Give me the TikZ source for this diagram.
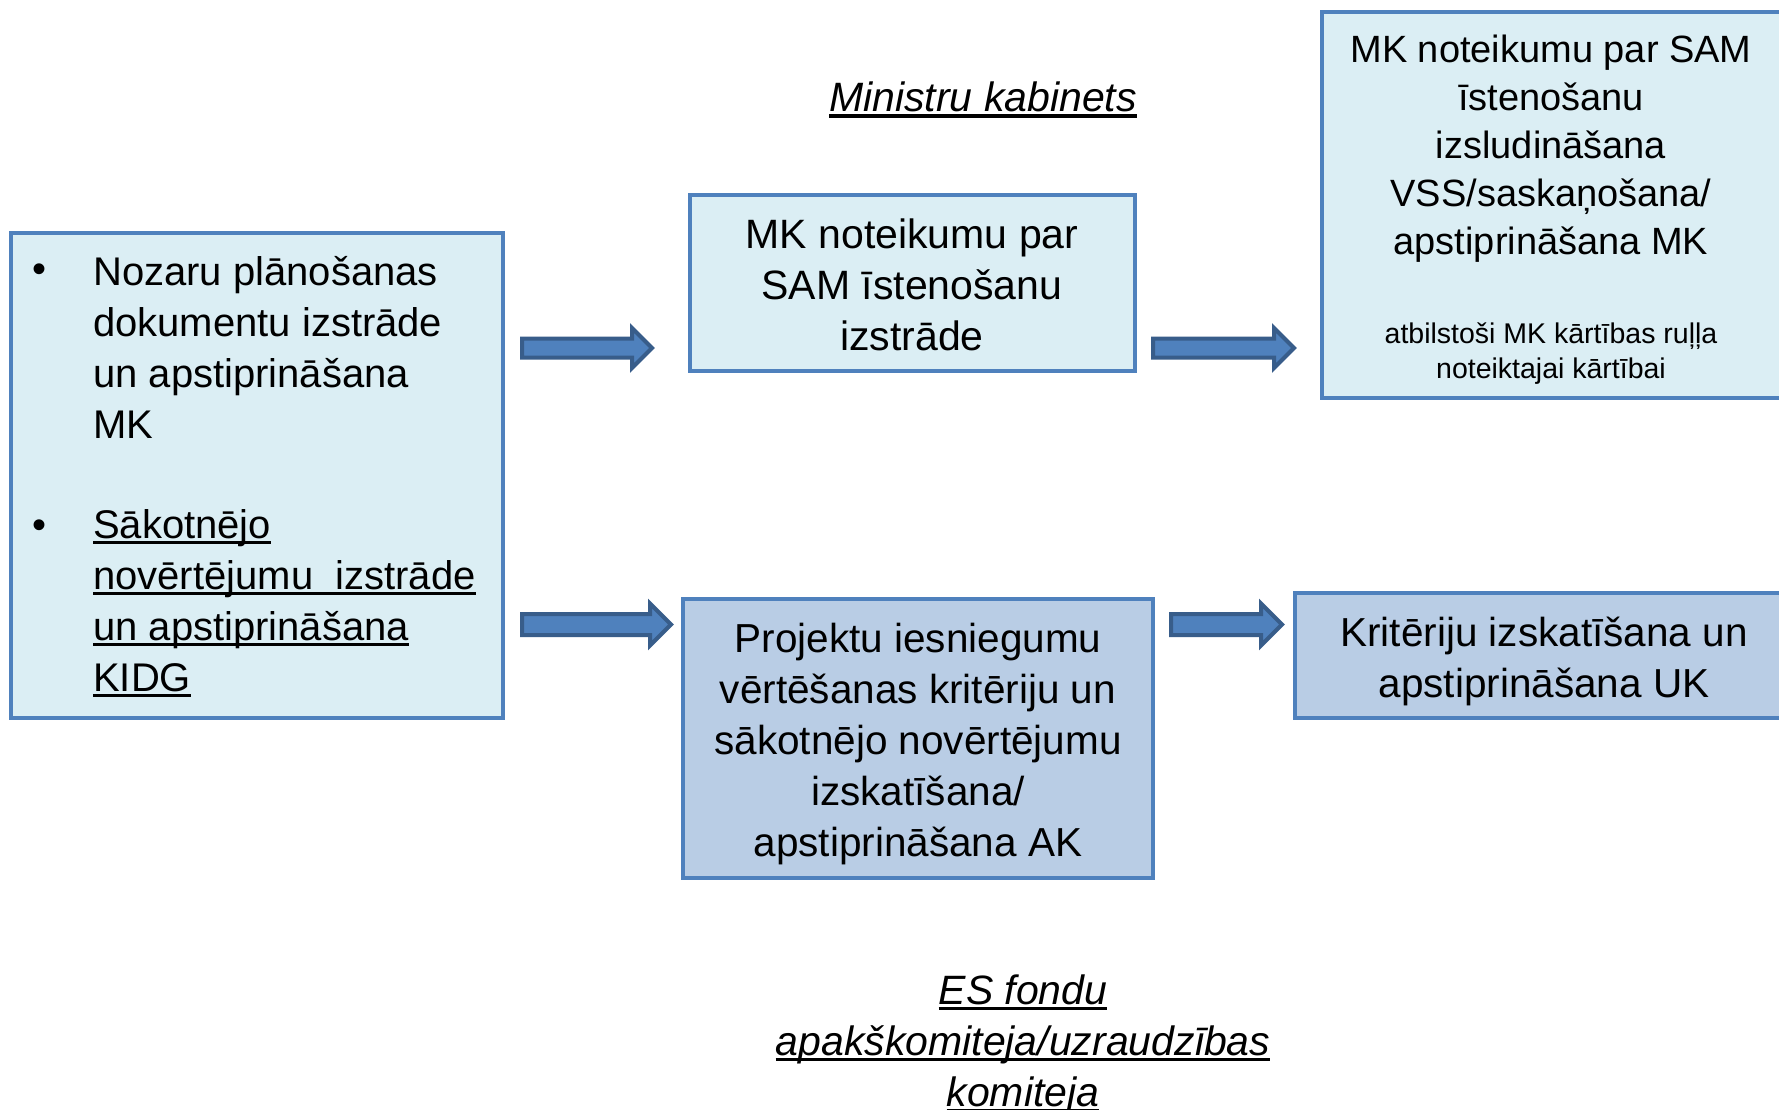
\documentclass[tikz,border=0pt]{standalone}
\usepackage{fontspec}
\setmainfont{Liberation Sans}
\usetikzlibrary{shapes.arrows}
\definecolor{lightfill}{HTML}{DBEEF4}
\definecolor{darkfill}{HTML}{B9CDE5}
\definecolor{boxborder}{HTML}{4F81BD}
\definecolor{arrowfill}{HTML}{4F81BD}
\definecolor{arrowborder}{HTML}{385D8A}
\newsavebox\ulinebox
\newcommand\ulinetext[2][2.5pt]{\sbox\ulinebox{#2}\rlap{\rule[\dimexpr-3pt-#1\relax]{\wd\ulinebox}{#1}}\usebox\ulinebox}
\tikzset{
  stagebox/.style={draw=boxborder, line width=4.5pt, inner sep=0pt},
  lightbox/.style={stagebox, fill=lightfill},
  darkbox/.style={stagebox, fill=darkfill},
  maintext/.style={inner sep=0pt, font=\fontsize{#1}{51}\selectfont},
  maintext/.default=40,
  smalltext/.style={inner sep=0pt, align=center, font=\fontsize{28.5}{35}\selectfont},
  titletext/.style={inner sep=0pt, align=center, font=\fontsize{41}{51}\selectfont\itshape},
  blockarrow/.style n args={3}{single arrow, draw=arrowborder, fill=arrowfill, line width=4pt,
    single arrow head extend=#3, single arrow head indent=0pt,
    inner xsep=0pt, inner ysep=#2, text height=0pt, text depth=0pt,
    minimum width=10pt, minimum height=#1, anchor=tail}
}
\begin{document}
\begin{tikzpicture}[x=1pt,y=-1pt]
\useasboundingbox (0,0) rectangle (1779,1109);
\clip (0,0) rectangle (1779,1109);
\fill[white] (0,0) rectangle (1779,1109);

% boxes
\node[lightbox, minimum width=492pt, minimum height=485pt] (left) at (257,475.5) {};
\node[lightbox, minimum width=445pt, minimum height=176pt] (topmid) at (912.5,283) {};
\node[lightbox, minimum width=478pt, minimum height=386pt] (topright) at (1561,205) {};
\node[darkbox, minimum width=470pt, minimum height=279pt] (botmid) at (918,738.5) {};
\node[darkbox, minimum width=505pt, minimum height=125pt] (botright) at (1547.5,655.5) {};

% left box text
\node[maintext] (b1) at (40,273) {•};
\node[maintext] (b2) at (40,529) {•};
\node[maintext, align=left, anchor=west] (lt1) at (93,347)
  {Nozaru plānošanas\\dokumentu izstrāde\\un apstiprināšana\\MK};
\node[maintext, align=left, anchor=west] (lt2) at (93,603)
  {\ulinetext{Sākotnējo}\\\ulinetext{novērtējumu\ \ izstrāde}\\\ulinetext{un apstiprināšana}\\\ulinetext{KIDG}};

% other texts
\node[maintext=41, align=center] (tmt) at (912,285)
  {MK noteikumu par\\SAM īstenošanu\\izstrāde};
\node[inner sep=0pt, align=center, font=\fontsize{38}{48}\selectfont] (trt) at (1551,148.5)
  {MK noteikumu par SAM\\īstenošanu\\izsludināšana\\VSS/saskaņošana/\\apstiprināšana MK};
\node[smalltext] (trs) at (1551,353.5)
  {atbilstoši MK kārtības ruļļa\\noteiktajai kārtībai};
\node[maintext=40.5, align=center] (bmt) at (918,744)
  {Projektu iesniegumu\\vērtēšanas kritēriju un\\sākotnējo novērtējumu\\izskatīšana/\\apstiprināšana AK};
\node[maintext=40.5, align=center] (brt) at (1544,661.5)
  {Kritēriju izskatīšana un\\apstiprināšana UK};

% titles
\node[titletext] (mk) at (983,99.5) {\ulinetext[3.3pt]{Ministru kabinets}};
\node[titletext] (es) at (1023,1044.5)
  {\ulinetext[3.3pt]{ES fondu}\\\ulinetext[3.3pt]{apakškomiteja/uzraudzības}\\\ulinetext[3.3pt]{komiteja}};

% arrows (tail at the left point, length along the arrow)
\coordinate (a1t) at (520,348);
\coordinate (a2t) at (1151,348);
\coordinate (a3t) at (520,624.5);
\coordinate (a4t) at (1169,624.5);
\node[blockarrow={130pt}{7.5pt}{10.5pt}] (a1) at (a1t) {};
\node[blockarrow={141pt}{7.5pt}{10.5pt}] (a2) at (a2t) {};
\node[blockarrow={149pt}{8.5pt}{10.5pt}] (a3) at (a3t) {};
\node[blockarrow={111pt}{8.5pt}{10.5pt}] (a4) at (a4t) {};
\end{tikzpicture}
\end{document}
